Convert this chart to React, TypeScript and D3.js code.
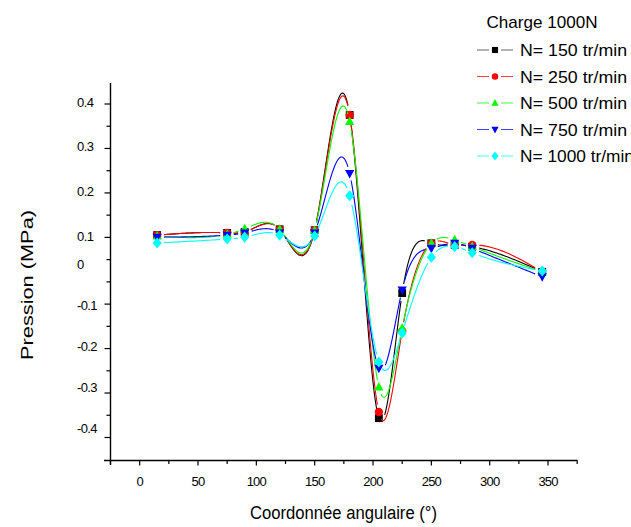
import React from "react";
import * as d3 from "d3";

const angles = [15, 75, 90, 120, 150, 180, 205, 225, 250, 270, 285, 345];
const n150 = [0.102, 0.107, 0.109, 0.115, 0.113, 0.371, -0.376, -0.071, 0.074, 0.068, 0.062, -0.019];
const n250 = [0.102, 0.107, 0.109, 0.115, 0.113, 0.371, -0.361, -0.163, 0.074, 0.068, 0.068, -0.019];
const n500 = [0.1, 0.104, 0.116, 0.115, 0.113, 0.356, -0.3, -0.156, 0.074, 0.086, 0.062, -0.019];
const n750 = [0.096, 0.102, 0.107, 0.107, 0.107, 0.24, -0.254, -0.063, 0.056, 0.074, 0.056, -0.031];
const n1000 = [0.075, 0.089, 0.096, 0.102, 0.1, 0.19, -0.239, -0.168, 0.024, 0.062, 0.04, -0.017];

const seriesNames = ["N= 150  tr/min", "N= 250  tr/min", "N= 500  tr/min", "N= 750  tr/min", "N= 1000 tr/min"];
const seriesColors = ["#000000", "#ff0000", "#00ff00", "#0000ff", "#00ffff"];
const seriesSymbols = ["square", "circle", "triangleUp", "triangleDown", "diamond"];
const seriesValues = [n150, n250, n500, n750, n1000];

const yLabelValues = [0.4, 0.3, 0.2, 0.1, 0, -0.1, -0.2, -0.3, -0.4];
const yLabelTexts = ["0.4", "0.3", "0.2", "0.1", "0", "-0.1", "-0.2", "-0.3", "-0.4"];
const xTickValues = [-25, 0, 25, 50, 75, 100, 125, 150, 175, 200, 225, 250, 275, 300, 325, 350, 375];
const xLabelValues = [0, 50, 100, 150, 200, 250, 300, 350];

const legendTitle = "Charge 1000N";
const xTitle = "Coordonnée angulaire (°)";
const yTitle = "Pression (MPa)";

const W = 631;
const H = 527;

// natural cubic spline y(x) through pixel points, sampled for drawing
function splineSamples(px: number[], py: number[], per = 40): [number, number][] {
  const n = px.length;
  const h = d3.range(n - 1).map((i) => px[i + 1] - px[i]);
  const a = new Array(n).fill(0);
  const b = new Array(n).fill(1);
  const c = new Array(n).fill(0);
  const r = new Array(n).fill(0);
  for (let i = 1; i < n - 1; i++) {
    a[i] = h[i - 1];
    b[i] = 2 * (h[i - 1] + h[i]);
    c[i] = h[i];
    r[i] = 6 * ((py[i + 1] - py[i]) / h[i] - (py[i] - py[i - 1]) / h[i - 1]);
  }
  // Thomas algorithm
  const cp = new Array(n).fill(0);
  const rp = new Array(n).fill(0);
  cp[0] = c[0] / b[0];
  rp[0] = r[0] / b[0];
  for (let i = 1; i < n; i++) {
    const m = b[i] - a[i] * cp[i - 1];
    cp[i] = c[i] / m;
    rp[i] = (r[i] - a[i] * rp[i - 1]) / m;
  }
  const M = new Array(n).fill(0);
  M[n - 1] = rp[n - 1];
  for (let i = n - 2; i >= 0; i--) M[i] = rp[i] - cp[i] * M[i + 1];
  const out: [number, number][] = [];
  for (let i = 0; i < n - 1; i++) {
    const hi = h[i];
    for (let k = 0; k < per; k++) {
      const xx = px[i] + (hi * k) / per;
      const A = px[i + 1] - xx;
      const B = xx - px[i];
      const yy =
        (M[i] * A * A * A) / (6 * hi) +
        (M[i + 1] * B * B * B) / (6 * hi) +
        (py[i] / hi - (M[i] * hi) / 6) * A +
        (py[i + 1] / hi - (M[i + 1] * hi) / 6) * B;
      out.push([xx, yy]);
    }
  }
  out.push([px[n - 1], py[n - 1]]);
  return out;
}

function Symbol({ type, cx, cy, r, color }: { type: string; cx: number; cy: number; r: number; color: string }) {
  if (type === "square") return <rect x={cx - r * 0.85} y={cy - r * 0.85} width={r * 1.7} height={r * 1.7} fill={color} />;
  if (type === "circle") return <circle cx={cx} cy={cy} r={r * 0.9} fill={color} />;
  if (type === "triangleUp")
    return <path d={`M${cx},${cy - r * 1.1}L${cx + r},${cy + r * 0.75}L${cx - r},${cy + r * 0.75}Z`} fill={color} />;
  if (type === "triangleDown")
    return <path d={`M${cx},${cy + r * 1.1}L${cx + r},${cy - r * 0.75}L${cx - r},${cy - r * 0.75}Z`} fill={color} />;
  return <path d={`M${cx},${cy - r * 1.2}L${cx + r},${cy}L${cx},${cy + r * 1.2}L${cx - r},${cy}Z`} fill={color} />;
}

export default function App() {
  const x = d3.scaleLinear().domain([-25, 375]).range([110.5, 577.2]);
  const y = d3.scaleLinear().domain([-0.4, 0, 0.1, 0.4]).range([428, 264, 236, 102]);
  const tickIdx = d3.range(0, 16);
  const tickScale = d3.scaleLinear().domain([0, 15]).range([104, 437.5]);
  const majorIdx = [0, 2, 4, 6, 9, 11, 13, 15];

  const axisY = 460.5;
  const axisX = 110.5;
  const font = "'Liberation Sans', Arial, sans-serif";

  const paths = seriesValues.map((vals) => {
    const px = angles.map((a) => x(a));
    const py = vals.map((v) => y(v));
    const pts = splineSamples(px, py);
    const gap = 6.5;
    const line = d3
      .line<[number, number]>()
      .defined((p) => px.every((mx, i) => Math.hypot(p[0] - mx, p[1] - py[i]) > gap))
      .x((p) => p[0])
      .y((p) => p[1]);
    return line(pts) || "";
  });

  return (
    <svg width={W} height={H} style={{ position: "absolute", left: 0, top: 0, background: "#fff" }}>
      <rect x={0} y={0} width={W} height={H} fill="#fff" />
      <line x1={104} x2={577.5} y1={axisY} y2={axisY} stroke="#000" strokeWidth={1.4} />
      <line x1={axisX} x2={axisX} y1={83} y2={465} stroke="#000" strokeWidth={1.4} />
      {tickIdx.map((i) => {
        const major = majorIdx.includes(i);
        const ty = tickScale(i);
        return <line key={"yt" + i} x1={axisX - (major ? 6 : 4)} x2={axisX} y1={ty} y2={ty} stroke="#000" strokeWidth={1.2} />;
      })}
      {xTickValues.map((v) => {
        const major = v % 50 === 0;
        return <line key={"xt" + v} x1={x(v)} x2={x(v)} y1={axisY} y2={axisY + (major ? 5 : 3.5)} stroke="#000" strokeWidth={1.2} />;
      })}
      {yLabelValues.map((v, i) => (
        <text key={"yl" + i} x={77} y={y(v)} dy="0.35em" fontFamily={font} fontSize={13} letterSpacing={-0.6} fill="#000">
          {yLabelTexts[i]}
        </text>
      ))}
      {xLabelValues.map((v) => (
        <text key={"xl" + v} x={x(v)} y={486} textAnchor="middle" fontFamily={font} fontSize={13} letterSpacing={-0.8} fill="#000">
          {String(v)}
        </text>
      ))}
      <text x={343.5} y={519} textAnchor="middle" fontFamily={font} fontSize={18} textLength={187} lengthAdjust="spacingAndGlyphs" fill="#000">
        {xTitle}
      </text>
      <text transform={`translate(33,285) rotate(-90)`} textAnchor="middle" fontFamily={font} fontSize={17} textLength={150} lengthAdjust="spacingAndGlyphs" fill="#000">
        {yTitle}
      </text>
      {seriesValues.map((vals, s) => (
        <g key={"s" + s}>
          <path d={paths[s]} fill="none" stroke={seriesColors[s]} strokeWidth={1.1} />
          {vals.map((v, i) => (
            <Symbol key={i} type={seriesSymbols[s]} cx={x(angles[i])} cy={y(v)} r={4.6} color={seriesColors[s]} />
          ))}
        </g>
      ))}
      <text x={486.5} y={28} fontFamily={font} fontSize={17} textLength={111} lengthAdjust="spacingAndGlyphs" fill="#000">
        {legendTitle}
      </text>
      {seriesNames.map((name, s) => {
        const ly = 50 + s * 26.5;
        return (
          <g key={"lg" + s}>
            <line x1={477} x2={489} y1={ly} y2={ly} stroke={seriesColors[s]} strokeOpacity={s === 0 ? 0.6 : 0.75} strokeWidth={1} />
            <line x1={501} x2={513} y1={ly} y2={ly} stroke={seriesColors[s]} strokeOpacity={s === 0 ? 0.6 : 0.75} strokeWidth={1} />
            <Symbol type={seriesSymbols[s]} cx={495} cy={ly} r={3.6} color={seriesColors[s]} />
            <text x={520} y={ly} dy="0.36em" fontFamily={font} fontSize={17} textLength={s === 4 ? 114 : 107} lengthAdjust="spacingAndGlyphs" fill="#000">
              {name}
            </text>
          </g>
        );
      })}
    </svg>
  );
}
